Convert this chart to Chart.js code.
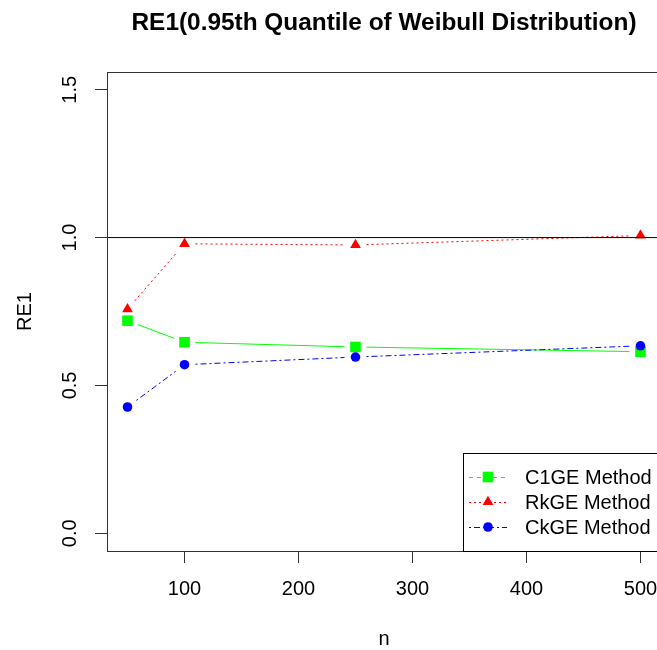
<!DOCTYPE html>
<html><head><meta charset="utf-8">
<script src="https://cdn.jsdelivr.net/npm/chart.js@4/dist/chart.umd.min.js"></script>
<style>
html,body{margin:0;padding:0;overflow:hidden;background:#fff;width:657px;height:650px}
#wrap{width:764px;height:650px}
</style></head>
<body><div id="wrap"><canvas id="c" width="764" height="650"></canvas></div>
<script>
// ---- data ----
const nValues = [50, 100, 250, 500];
const c1geValues = [0.719, 0.646, 0.630, 0.614];
const rkgeValues = [0.758, 0.979, 0.975, 1.007];
const ckgeValues = [0.427, 0.570, 0.596, 0.634];
const seriesNames = ['C1GE Method', 'RkGE Method', 'CkGE Method'];
const xTickValues = [100, 200, 300, 400, 500];
const yTickValues = [0.0, 0.5, 1.0, 1.5];
const refLineValue = 1.0;
const xRange = [32, 518];
const yRange = [-0.06, 1.56];
const chartTitle = 'RE1(0.95th Quantile of Weibull Distribution)';
const xTitle = 'n';
const yTitle = 'RE1';

const FONT = '"Liberation Sans", Arial, sans-serif';
Chart.defaults.font.family = FONT;
Chart.defaults.color = '#000';

const toPts = vals => nValues.map((n, i) => ({x: n, y: vals[i]}));
const GAP = 11;

const gapLines = {
  id: 'gapLines',
  beforeDatasetsDraw(chart) {
    const ctx = chart.ctx, a = chart.chartArea;
    ctx.save();
    ctx.beginPath(); ctx.rect(a.left, a.top, a.right - a.left, a.bottom - a.top); ctx.clip();
    chart.data.datasets.forEach((ds, i) => {
      if (!ds.gapLine) return;
      const pts = chart.getDatasetMeta(i).data;
      ctx.strokeStyle = ds.borderColor; ctx.lineWidth = ds.borderWidth;
      ctx.setLineDash(ds.lineDash || []);
      for (let k = 0; k < pts.length - 1; k++) {
        const p = pts[k], q = pts[k + 1];
        const dx = q.x - p.x, dy = q.y - p.y, len = Math.hypot(dx, dy);
        if (len <= 2 * GAP) continue;
        const ux = dx / len, uy = dy / len;
        ctx.beginPath();
        ctx.moveTo(p.x + ux * GAP, p.y + uy * GAP);
        ctx.lineTo(q.x - ux * GAP, q.y - uy * GAP);
        ctx.stroke();
      }
    });
    ctx.restore();
  }
};

const boxAndLegend = {
  id: 'boxAndLegend',
  afterDraw(chart) {
    const ctx = chart.ctx, a = chart.chartArea;
    ctx.save();
    // title, centred over the plot region
    ctx.fillStyle = '#000';
    ctx.font = 'bold 24.4px ' + FONT;
    ctx.textAlign = 'center'; ctx.textBaseline = 'middle';
    ctx.fillText(chartTitle, (a.left + a.right) / 2, 23.5);
    // box
    ctx.strokeStyle = '#333'; ctx.lineWidth = 1; ctx.setLineDash([]);
    ctx.strokeRect(Math.round(a.left) + 0.5, Math.round(a.top) + 0.5,
                   Math.round(a.right - a.left), Math.round(a.bottom - a.top));
    // legend (bottomright)
    const w = 198, h = 98;
    const x0 = Math.round(a.right - w), y0 = Math.round(a.bottom - h);
    ctx.fillStyle = '#fff';
    ctx.fillRect(x0, y0, w, h);
    ctx.strokeStyle = '#000';
    ctx.strokeRect(x0 + 0.5, y0 + 0.5, w, h);
    const legendDs = chart.data.datasets.filter(d => d.inLegend);
    legendDs.forEach((ds, i) => {
      const y = y0 + 24 + i * 25;
      ctx.strokeStyle = ds.borderColor; ctx.lineWidth = 1;
      ctx.setLineDash(ds.legendDash || []);
      ctx.beginPath(); ctx.moveTo(x0 + 6, y + 0.5); ctx.lineTo(x0 + 44, y + 0.5); ctx.stroke();
      ctx.setLineDash([]);
      ctx.fillStyle = ds.pointBackgroundColor; ctx.strokeStyle = ds.pointBackgroundColor;
      Chart.helpers.drawPoint(ctx, {pointStyle: ds.pointStyle, radius: ds.pointRadius, rotation: 0, borderWidth: 0}, x0 + 25, y);
      ctx.fillStyle = '#000';
      ctx.font = '20px ' + FONT;
      ctx.textAlign = 'left'; ctx.textBaseline = 'middle';
      ctx.fillText(ds.label, x0 + 62, y + 1);
    });
    ctx.restore();
  }
};

new Chart(document.getElementById('c'), {
  type: 'line',
  data: {
    datasets: [
      { label: 'ref', data: [{x: xRange[0], y: refLineValue}, {x: xRange[1], y: refLineValue}],
        borderColor: '#000', borderWidth: 1, pointRadius: 0, order: 0 },
      { label: seriesNames[0], data: toPts(c1geValues), inLegend: true, gapLine: true, showLine: false,
        borderColor: '#00FF00', borderWidth: 1, lineDash: [], legendDash: [4, 4],
        pointStyle: 'rect', pointRadius: 7.5, pointBackgroundColor: '#00FF00', pointBorderWidth: 0, order: 3 },
      { label: seriesNames[1], data: toPts(rkgeValues), inLegend: true, gapLine: true, showLine: false,
        borderColor: '#FF0000', borderWidth: 1, lineDash: [2, 3], legendDash: [2, 3],
        pointStyle: 'triangle', pointRadius: 6.2, pointBackgroundColor: '#FF0000', pointBorderWidth: 0, order: 2 },
      { label: seriesNames[2], data: toPts(ckgeValues), inLegend: true, gapLine: true, showLine: false,
        borderColor: '#0000FF', borderWidth: 1, lineDash: [2, 3, 6, 3], legendDash: [2, 3, 6, 3],
        pointStyle: 'circle', pointRadius: 4.8, pointBackgroundColor: '#0000FF', pointBorderWidth: 0, order: 1 }
    ]
  },
  options: {
    responsive: false, animation: false, devicePixelRatio: 1,
    layout: { padding: { left: 0, right: 103, top: 72, bottom: 0 } },
    plugins: {
      legend: { display: false },
      tooltip: { enabled: false },
      title: { display: false }
    },
    scales: {
      x: {
        type: 'linear', min: xRange[0], max: xRange[1],
        afterBuildTicks: s => { s.ticks = xTickValues.map(v => ({value: v})); },
        afterFit: s => { s.height = 99; },
        grid: { drawOnChartArea: false, drawTicks: true, tickLength: 12, color: '#333' },
        border: { display: false },
        ticks: { font: { size: 20 }, color: '#000', padding: 14, maxRotation: 0,
                 callback: v => String(v) },
        title: { display: true, text: xTitle, font: { size: 20 }, color: '#000', padding: { top: 0, bottom: -1 } }
      },
      y: {
        type: 'linear', min: yRange[0], max: yRange[1],
        afterBuildTicks: s => { s.ticks = yTickValues.map(v => ({value: v})); },
        afterFit: s => { s.width = 107; },
        grid: { drawOnChartArea: false, drawTicks: true, tickLength: 12, color: '#333' },
        border: { display: false },
        ticks: { font: { size: 20 }, color: '#000', padding: 11, minRotation: 90, maxRotation: 90,
                 crossAlign: 'center', callback: v => Number(v).toFixed(1) },
        title: { display: true, text: yTitle, font: { size: 20 }, color: '#000', padding: { top: 13, bottom: 0 } }
      }
    }
  },
  plugins: [gapLines, boxAndLegend]
});
</script>
</body></html>
